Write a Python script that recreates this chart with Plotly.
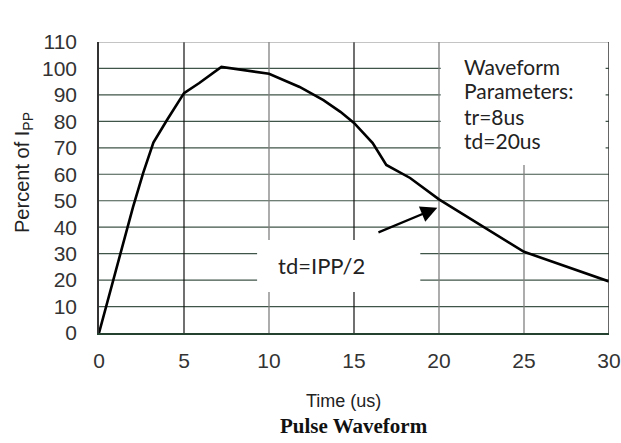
import plotly.graph_objects as go

# Pulse waveform
time_us = [0, 1.8, 2.0, 2.6, 3.2, 4.0, 5.0, 5.9, 6.7, 7.2, 10.0, 11.8, 13.2,
           14.2, 15.0, 16.1, 16.9, 18.3, 20.0, 25.0, 30.0]
percent_ipp = [0, 43, 47.6, 60.5, 72, 80.5, 90.7, 94.5, 98.3, 100.6, 98, 93, 88,
               83.6, 79.4, 71.8, 63.5, 58.6, 50.5, 30.7, 19.5]

x_ticks = [0, 5, 10, 15, 20, 25, 30]
y_ticks = [0, 10, 20, 30, 40, 50, 60, 70, 80, 90, 100, 110]
dark_vlines = [5, 15]
light_vlines = [10, 20, 25]

params_lines = ["Waveform", "Parameters:", "tr=8us", "td=20us"]
params_y = [100.9, 91.5, 82.0, 72.6]
td_text = "td=IPP/2"
arrow_tail = (16.35, 37.8)
arrow_head = (19.9, 47.3)

GRID = "#3f5548"
shapes = []
# horizontal grid lines
for y in y_ticks[1:-1]:
    shapes.append(dict(type="line", xref="x", yref="y", x0=0, x1=30, y0=y, y1=y,
                       line=dict(color=GRID, width=1.2), layer="below"))
for x in light_vlines:
    shapes.append(dict(type="line", xref="x", yref="y", x0=x, x1=x, y0=0, y1=110,
                       line=dict(color="#808080", width=1.3), layer="below"))
for x in dark_vlines:
    shapes.append(dict(type="line", xref="x", yref="y", x0=x, x1=x, y0=0, y1=110,
                       line=dict(color="#111111", width=1.2), layer="below"))
# white boxes behind the labels, hiding the grid
shapes.append(dict(type="rect", xref="x", yref="y", x0=20.1, x1=29.8, y0=63.5, y1=110,
                   fillcolor="white", line=dict(width=0), layer="below"))
shapes.append(dict(type="rect", xref="x", yref="y", x0=9.3, x1=18.9, y0=15.5, y1=35.2,
                   fillcolor="white", line=dict(width=0), layer="below"))
# top and right frame
shapes.append(dict(type="line", xref="x", yref="y", x0=0, x1=30, y0=110, y1=110,
                   line=dict(color="#8a8a8a", width=1.2)))
shapes.append(dict(type="line", xref="x", yref="y", x0=30, x1=30, y0=0, y1=110,
                   line=dict(color="#333333", width=1.5)))

fig = go.Figure()
fig.add_trace(go.Scatter(x=time_us, y=percent_ipp, mode="lines",
                         line=dict(color="black", width=2.6), showlegend=False,
                         hoverinfo="skip"))

annotations = []
for txt, ty in zip(params_lines, params_y):
    annotations.append(dict(x=21.35, y=ty, xref="x", yref="y", text=txt, showarrow=False,
                            xanchor="left", yanchor="middle",
                            font=dict(family="Lato", size=21, color="#222222")))
annotations += [
    dict(x=13.06, y=25.7, xref="x", yref="y", text=td_text, showarrow=False,
         font=dict(family="Lato", size=22, color="#222222")),
    dict(x=arrow_head[0], y=arrow_head[1], ax=arrow_tail[0], ay=arrow_tail[1],
         xref="x", yref="y", axref="x", ayref="y", text="", showarrow=True,
         arrowhead=2, arrowsize=1.5, arrowwidth=2.2, arrowcolor="black"),
    dict(xref="paper", yref="paper", x=-0.147, y=0.55, textangle=-90,
         xanchor="center", yanchor="middle",
         text="Percent of I<sub>PP</sub>", showarrow=False,
         font=dict(family="Liberation Sans", size=20, color="#222222")),
    dict(xref="paper", yref="paper", x=0.48, y=-0.234, yanchor="middle",
         text="Time (us)", showarrow=False,
         font=dict(family="Liberation Sans", size=18, color="#222222")),
    dict(xref="paper", yref="paper", x=0.5, y=-0.32, yanchor="middle",
         text="<b>Pulse Waveform</b>", showarrow=False,
         font=dict(family="Liberation Serif", size=21, color="#111111")),
]

fig.update_layout(
    width=621, height=443,
    margin=dict(l=99, r=12, t=42, b=110),
    paper_bgcolor="white", plot_bgcolor="white",
    shapes=shapes,
    annotations=annotations,
)
fig.update_xaxes(range=[0, 30], tickvals=x_ticks, showgrid=False, zeroline=False,
                 showline=True, linecolor="#24402f", linewidth=2, ticks="",
                 ticklabelstandoff=8, automargin=False, ticklabeloverflow="allow",
                 tickfont=dict(family="Liberation Sans", size=21, color="#333333"))
fig.update_yaxes(range=[0, 110], tickvals=y_ticks, showgrid=False, zeroline=False,
                 showline=True, linecolor="#333333", linewidth=1.5, ticks="",
                 ticklabelstandoff=16, automargin=False,
                 tickfont=dict(family="Liberation Sans", size=21, color="#333333"))

# drop the default page margin so the figure fills the window
fig.write_html("out.html", config={"displayModeBar": False},
               post_script="document.body.style.margin='0';document.body.style.overflow='hidden';")
